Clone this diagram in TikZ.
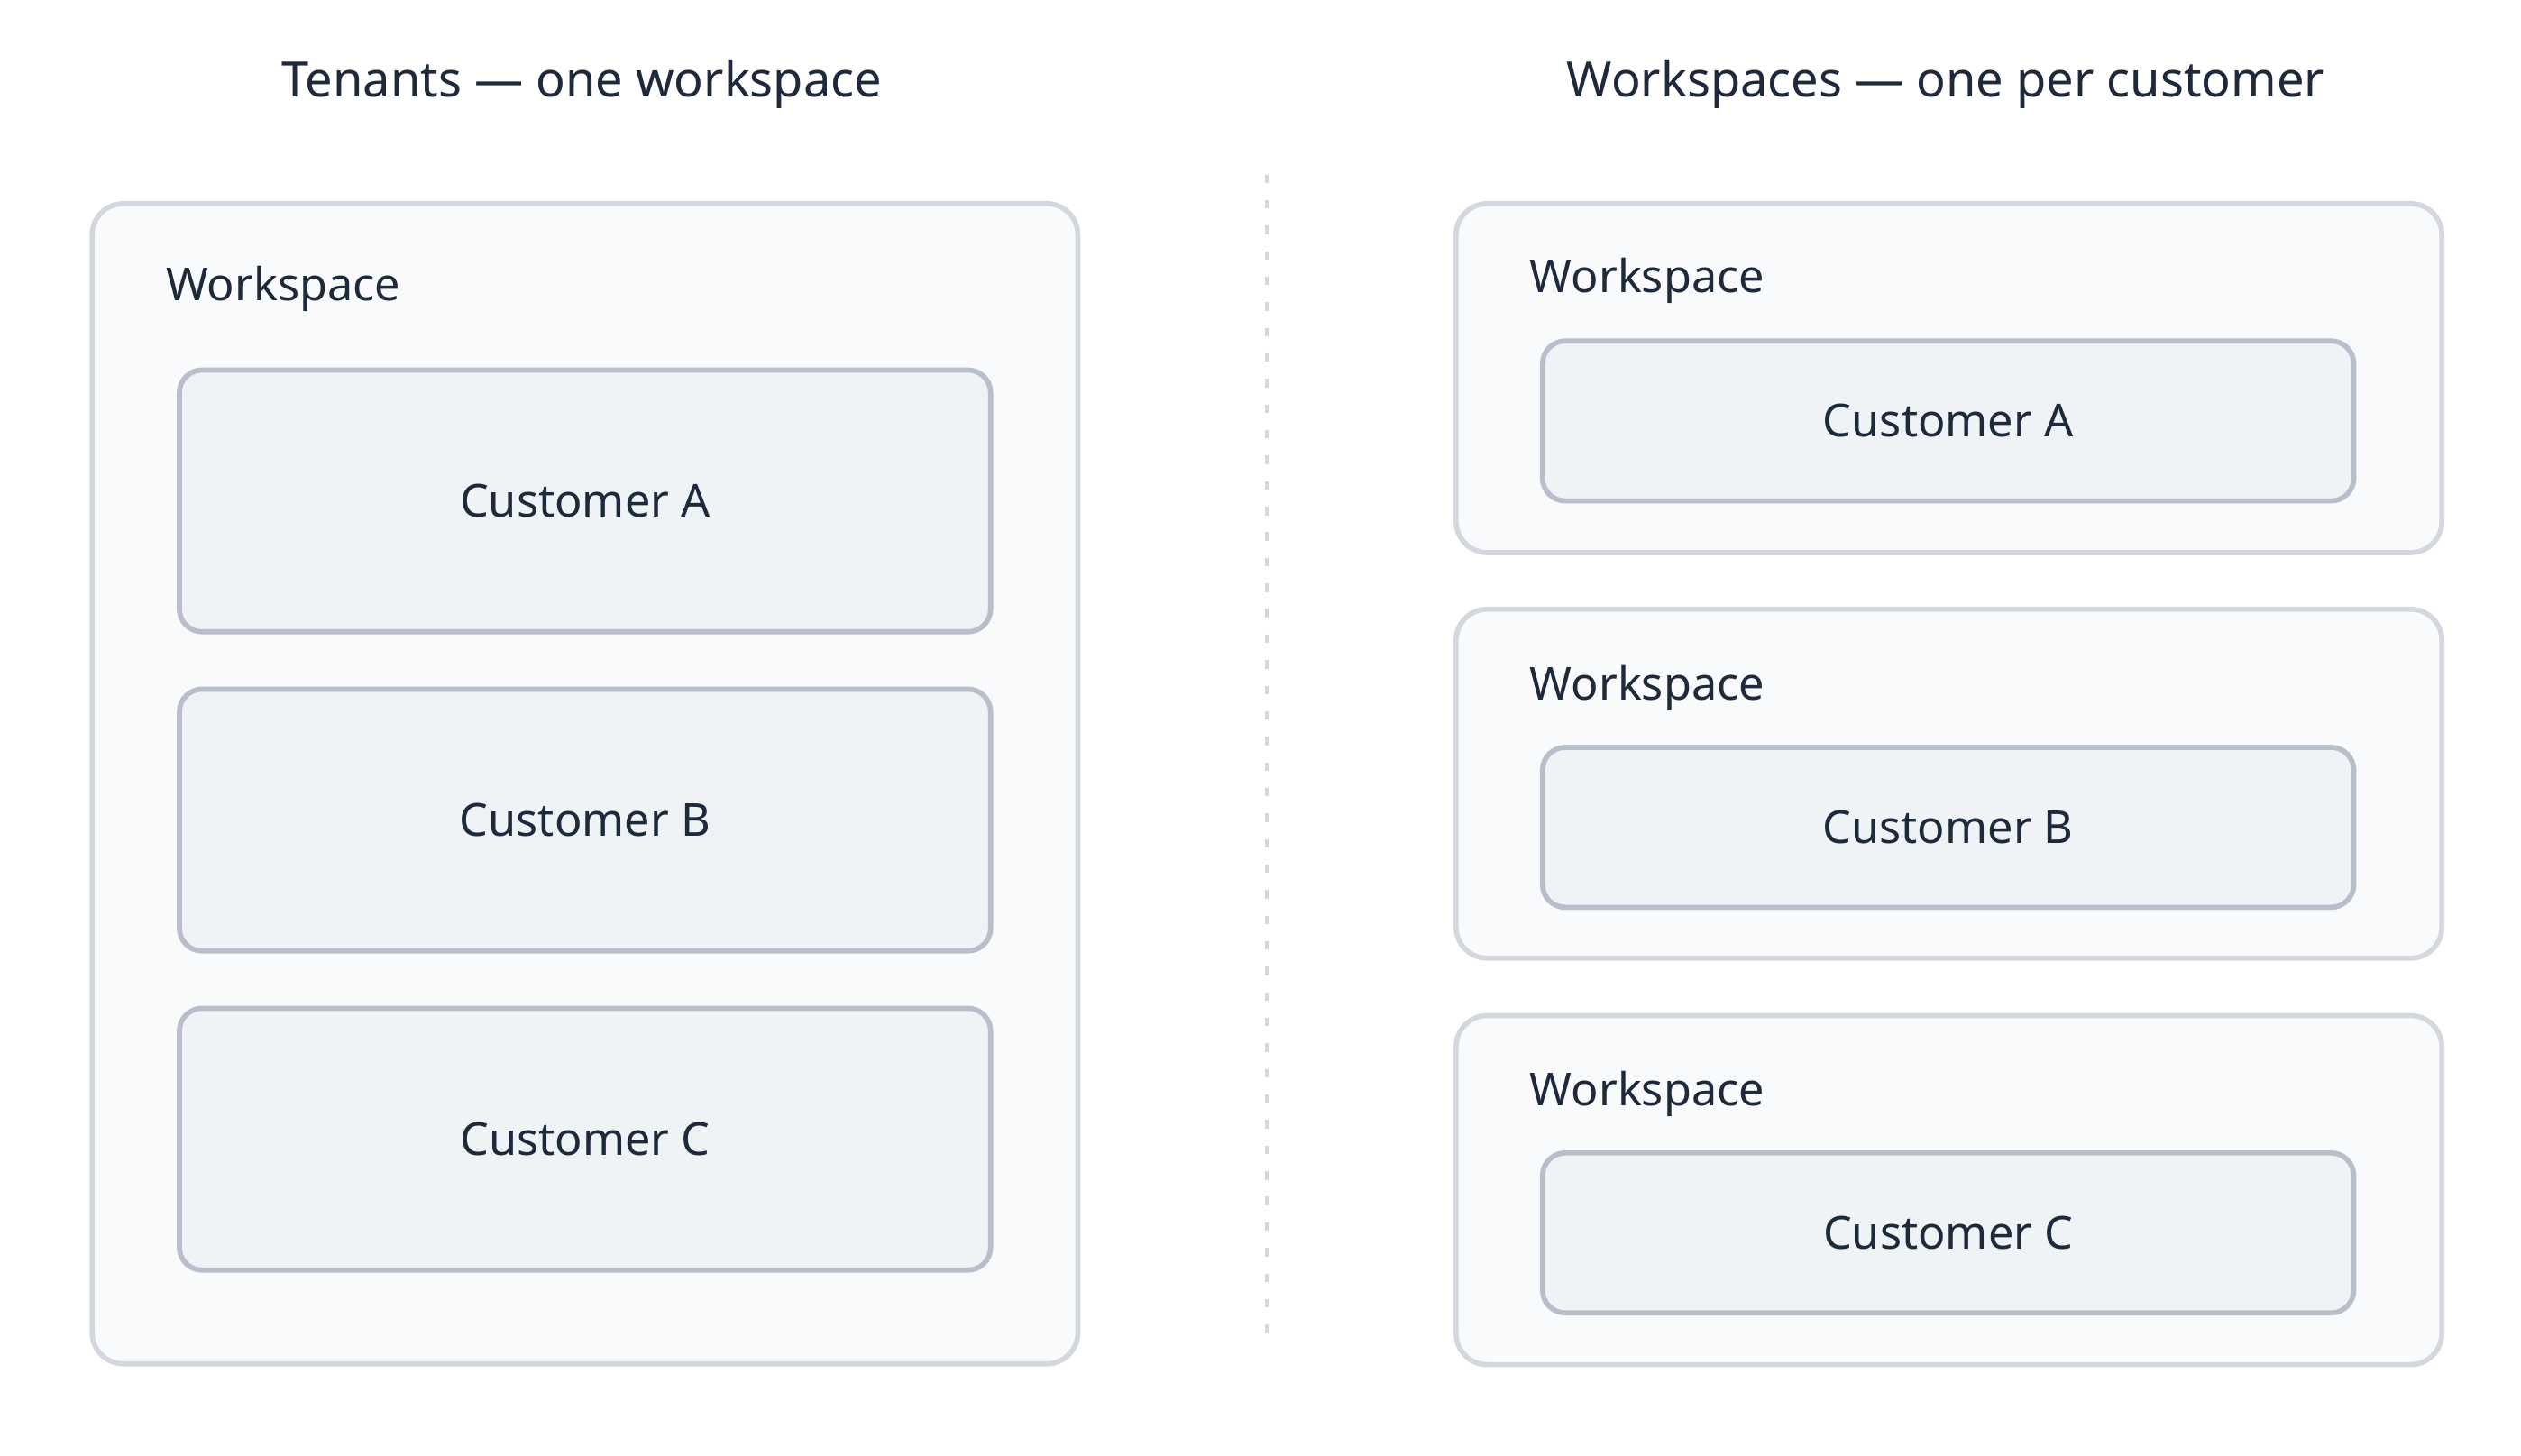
\documentclass[tikz,border=0pt]{standalone}
\usepackage{fontspec}
\setmainfont{Noto Sans}
\usetikzlibrary{positioning}
\definecolor{inkdark}{HTML}{1E293B}
\definecolor{wsfill}{HTML}{F8FAFC}
\definecolor{wsline}{HTML}{D4D8DE}
\definecolor{cufill}{HTML}{EFF3F6}
\definecolor{culine}{HTML}{B8BFCA}
\tikzset{
  title/.style={text=inkdark,font=\fontsize{8.6}{10}\selectfont\bfseries},
  wslabel/.style={text=inkdark,font=\fontsize{8}{10}\selectfont\bfseries,anchor=west,inner sep=0pt},
  workspace/.style={draw=wsline,line width=0.9pt,fill=wsfill,rounded corners=5.5pt,minimum width=6.1cm},
  customer/.style={draw=culine,line width=0.9pt,fill=cufill,rounded corners=4pt,text=inkdark,
    font=\fontsize{8}{10}\selectfont\bfseries,minimum width=5.02cm}
}
\begin{document}
\begin{tikzpicture}
  \useasboundingbox (0,0) rectangle (15.6,-9.01);
  % titles
  \node[title] (tleft) at (3.6,-0.52) {Tenants — one workspace};
  \node[title] (tright) at (12.04,-0.52) {Workspaces — one per customer};
  % divider
  \coordinate (dtop) at (7.84,-1.08);
  \coordinate (dbot) at (7.84,-8.30);
  \draw[wsline,line width=0.7pt,dash pattern=on 1.5pt off 3pt] (dtop) -- (dbot);
  % left: one workspace
  \node[workspace,minimum height=7.18cm] (ws) at (3.62,-4.85) {};
  \node[wslabel] (wsl) at (1.02,-1.79) {Workspace};
  \node[customer,minimum height=1.62cm] (ca) at (3.62,-3.10) {Customer A};
  \node[customer,minimum height=1.62cm] (cb) at (3.62,-5.075) {Customer B};
  \node[customer,minimum height=1.62cm] (cc) at (3.62,-7.05) {Customer C};
  % right: one per customer
  \node[workspace,minimum height=2.16cm] (wsa) at (12.06,-2.34) {};
  \node[workspace,minimum height=2.16cm] (wsb) at (12.06,-4.85) {};
  \node[workspace,minimum height=2.16cm] (wsc) at (12.06,-7.365) {};
  \node[wslabel] (wsal) at (9.46,-1.74) {Workspace};
  \node[wslabel] (wsbl) at (9.46,-4.26) {Workspace};
  \node[wslabel] (wscl) at (9.46,-6.77) {Workspace};
  \node[customer,minimum height=0.99cm] (rca) at (12.055,-2.605) {Customer A};
  \node[customer,minimum height=0.99cm] (rcb) at (12.055,-5.12) {Customer B};
  \node[customer,minimum height=0.99cm] (rcc) at (12.055,-7.63) {Customer C};
\end{tikzpicture}
\end{document}
